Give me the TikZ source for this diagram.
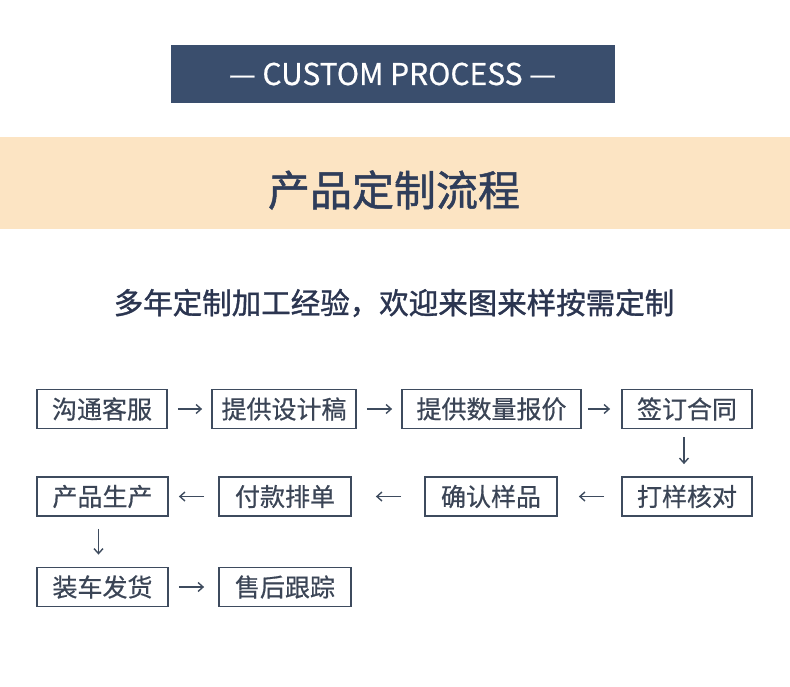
\documentclass[tikz,border=0pt]{standalone}
\usepackage{fontspec}
\setmainfont{Noto Sans CJK SC}
\newfontfamily\medfont[FakeBold=1.2]{Noto Sans CJK SC}
\newfontfamily\boxfont[FakeBold=0.6]{Noto Sans CJK SC}
\usetikzlibrary{arrows.meta}
\definecolor{bannerblue}{HTML}{3A4E6D}
\definecolor{beigeband}{HTML}{FCE4C3}
\definecolor{titlenavy}{HTML}{2F3D5A}
\definecolor{subnavy}{HTML}{2B3550}
\definecolor{boxline}{HTML}{3E4B5E}
\definecolor{boxtext}{HTML}{3B4556}
\tikzset{
  stepbox/.style={draw=boxline, line width=1.8pt, fill=white, minimum height=39pt,
    inner sep=0pt, text=boxtext, font=\boxfont\fontsize{25}{30}\selectfont},
  flowarrow/.style={draw=boxline, line width=1.4pt,
    -{Straight Barb[length=5pt,width=9pt,line width=1.4pt]}},
}
\begin{document}
\begin{tikzpicture}[x=1pt,y=-1pt]
\useasboundingbox (0,0) rectangle (790,687);
\fill[white] (0,0) rectangle (790,687);
\fill[beigeband] (0,137) rectangle (790,229);
\node[fill=bannerblue, minimum width=444pt, minimum height=58pt, inner sep=0pt,
  text=white, font=\boxfont\fontsize{30}{36}\selectfont] (banner) at (392.5,74) {— CUSTOM PROCESS —};
\node[text=titlenavy, font=\medfont\fontsize{42}{50}\selectfont, inner sep=0pt] (title) at (394,190) {产品定制流程};
\node[text=subnavy, font=\medfont\fontsize{29.5}{36}\selectfont, inner sep=0pt] (sub) at (394,303) {多年定制加工经验，欢迎来图来样按需定制};
% row 1
\node[stepbox, minimum width=130pt] (kf) at (102,409) {沟通客服};
\node[stepbox, minimum width=144pt] (sj) at (284,409) {提供设计稿};
\node[stepbox, minimum width=179pt] (bj) at (491.5,409) {提供数量报价};
\node[stepbox, minimum width=130pt] (ht) at (687,409) {签订合同};
% row 2
\node[stepbox, minimum width=131pt] (sc) at (102.5,496.5) {产品生产};
\node[stepbox, minimum width=132pt] (pd) at (285,496.5) {付款排单};
\node[stepbox, minimum width=132pt] (yp) at (491,496.5) {确认样品};
\node[stepbox, minimum width=130pt] (hd) at (687,496.5) {打样核对};
% row 3
\node[stepbox, minimum width=131pt] (fh) at (102.5,587) {装车发货};
\node[stepbox, minimum width=132pt] (gz) at (285,587) {售后跟踪};
% connectors
\draw[flowarrow, shorten <=10pt, shorten >=9pt] (kf.east) -- (sj.west);
\draw[flowarrow, shorten <=10pt, shorten >=9pt] (sj.east) -- (bj.west);
\draw[flowarrow, shorten <=6pt, shorten >=11pt] (bj.east) -- (ht.west);
\draw[flowarrow, shorten <=8pt, shorten >=12pt] ([xshift=-3pt]ht.south) -- ([xshift=-3pt]hd.north);
\draw[flowarrow, shorten <=17pt, shorten >=21pt] (hd.west) -- (yp.east);
\draw[flowarrow, shorten <=23pt, shorten >=24pt] (yp.west) -- (pd.east);
\draw[flowarrow, shorten <=14pt, shorten >=10pt] (pd.west) -- (sc.east);
\draw[flowarrow, shorten <=12pt, shorten >=12pt] ([xshift=-4pt]sc.south) -- ([xshift=-4pt]fh.north);
\draw[flowarrow, shorten <=10pt, shorten >=14pt] (fh.east) -- (gz.west);
\end{tikzpicture}
\end{document}
